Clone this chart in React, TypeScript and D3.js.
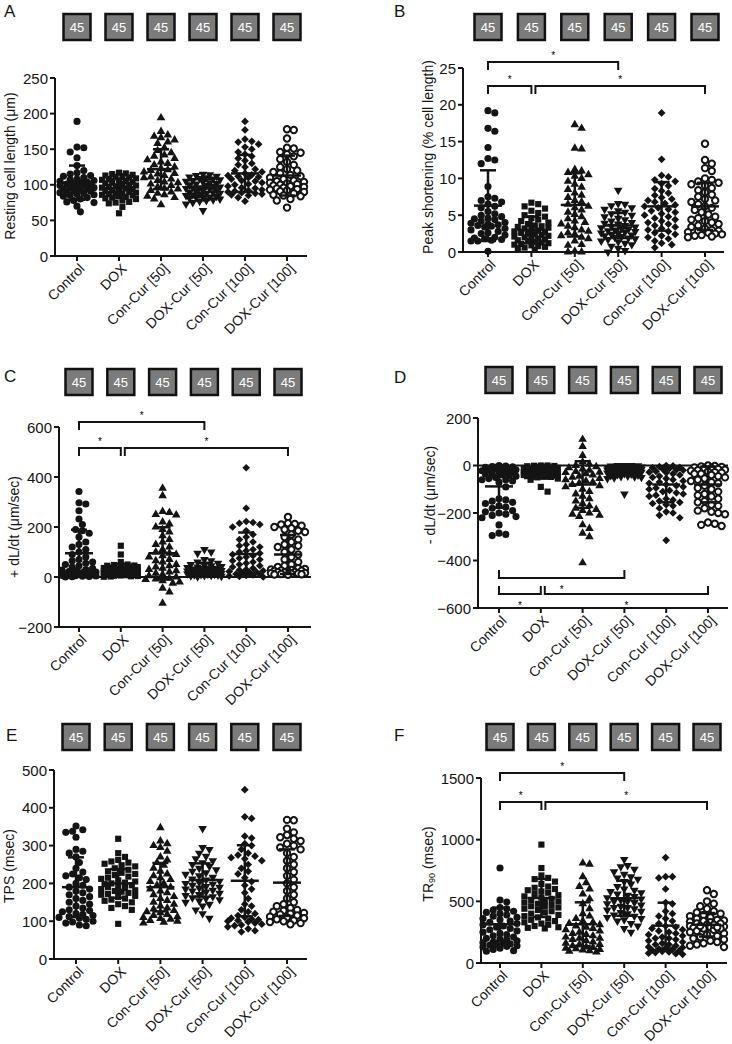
import React from 'react';
import * as d3 from 'd3';

// ---------------- DATA ----------------
const categories = ['Control', 'DOX', 'Con-Cur [50]', 'DOX-Cur [50]', 'Con-Cur [100]', 'DOX-Cur [100]'];
const groupN = [45, 45, 45, 45, 45, 45];

// A: Resting cell length (µm)
const restControl = [189, 153, 152, 146, 138, 127, 120, 117, 115, 113, 112, 110, 108, 107, 106, 105, 104, 103, 102, 101, 100, 100, 99, 98, 97, 96, 95, 94, 93, 92, 91, 90, 89, 88, 87, 86, 85, 84, 82, 80, 78, 76, 75, 70, 62];
const restDox = [117, 116, 115, 114, 113, 112, 111, 110, 109, 108, 107, 106, 105, 104, 103, 102, 101, 100, 99, 98, 97, 96, 95, 94, 93, 92, 91, 90, 89, 88, 88, 87, 86, 85, 84, 83, 82, 81, 80, 78, 76, 75, 74, 69, 60];
const restConCur50 = [194, 175, 170, 168, 166, 163, 160, 158, 152, 148, 145, 142, 140, 137, 135, 132, 130, 128, 125, 123, 121, 120, 118, 116, 115, 113, 111, 110, 108, 106, 104, 103, 101, 99, 97, 95, 94, 92, 90, 88, 86, 84, 82, 80, 72];
const restDoxCur50 = [115, 114, 113, 112, 111, 110, 109, 108, 107, 106, 105, 104, 103, 102, 101, 100, 99, 98, 97, 96, 96, 95, 94, 93, 92, 91, 90, 89, 88, 88, 87, 86, 85, 84, 83, 82, 82, 81, 80, 79, 78, 77, 75, 73, 64];
const restConCur100 = [189, 177, 164, 161, 160, 157, 153, 150, 146, 143, 140, 137, 134, 130, 128, 125, 122, 120, 118, 116, 114, 113, 112, 111, 110, 108, 106, 105, 103, 101, 100, 98, 96, 95, 93, 92, 91, 90, 89, 88, 87, 86, 85, 82, 77];
const restDoxCur100 = [178, 177, 165, 152, 151, 146, 145, 143, 140, 136, 132, 128, 125, 122, 120, 118, 116, 114, 112, 110, 108, 106, 105, 104, 103, 102, 101, 100, 99, 98, 97, 96, 95, 94, 93, 92, 91, 90, 88, 86, 85, 84, 80, 78, 68];
const restMeans = [103, 95, 122, 96, 116, 113];
const restSD = [24, 13, 28, 12, 26, 28];
const restTicks = [0, 50, 100, 150, 200, 250];

// B: Peak shortening (% cell length)
const psControl = [19.2, 18.9, 16.8, 16.4, 14.2, 12.7, 12.5, 12.0, 8.9, 7.5, 7.3, 7.0, 6.8, 6.5, 6.2, 6.0, 5.5, 5.0, 4.8, 4.6, 4.5, 4.4, 4.2, 4.0, 3.9, 3.8, 3.7, 3.6, 3.5, 3.4, 3.2, 3.0, 2.8, 2.6, 2.5, 2.3, 2.0, 1.9, 1.8, 1.7, 1.6, 1.5, 1.5, 5.2, 0.1];
const psDox = [6.7, 6.5, 6.2, 5.9, 5.6, 5.3, 5.0, 4.8, 4.6, 4.4, 4.2, 4.0, 3.8, 3.6, 3.5, 3.4, 3.3, 3.2, 3.0, 2.9, 2.8, 2.7, 2.6, 2.5, 2.4, 2.3, 2.2, 2.1, 2.0, 1.9, 1.8, 1.7, 1.6, 1.5, 1.4, 1.3, 1.2, 1.1, 1.0, 0.9, 0.8, 0.7, 0.6, 0.5, 0.3];
const psConCur50 = [17.3, 16.8, 14.1, 14.0, 11.2, 11.0, 10.8, 10.5, 10.3, 10.0, 9.6, 9.2, 8.8, 8.5, 8.0, 7.7, 7.4, 7.0, 6.8, 6.5, 6.2, 6.0, 5.7, 5.4, 5.1, 4.8, 4.5, 4.2, 4.0, 3.8, 3.5, 3.3, 3.0, 2.8, 2.6, 2.4, 2.2, 2.0, 1.8, 1.5, 1.0, 0.9, 0.1, 0.0, 0.0];
const psDoxCur50 = [8.4, 6.6, 6.5, 6.3, 6.0, 5.8, 5.6, 5.4, 5.2, 5.0, 4.8, 4.6, 4.4, 4.2, 4.0, 3.9, 3.8, 3.6, 3.5, 3.4, 3.3, 3.2, 3.1, 3.0, 2.9, 2.8, 2.7, 2.6, 2.5, 2.4, 2.3, 2.2, 2.1, 2.0, 1.9, 1.8, 1.7, 1.5, 1.4, 1.2, 1.0, 0.8, 0.5, 0.2, 0.0];
const psConCur100 = [18.9, 12.6, 10.4, 10.2, 9.8, 9.6, 9.3, 9.0, 8.6, 8.3, 8.0, 7.7, 7.4, 7.2, 7.0, 6.8, 6.6, 6.4, 6.2, 6.0, 5.8, 5.6, 5.4, 5.2, 5.0, 4.8, 4.6, 4.4, 4.2, 4.0, 3.8, 3.6, 3.4, 3.2, 3.0, 2.8, 2.6, 2.4, 2.2, 2.0, 1.8, 1.5, 1.2, 1.0, 0.6];
const psDoxCur100 = [14.7, 12.5, 12.0, 11.4, 11.0, 10.0, 9.8, 9.6, 9.4, 9.2, 9.0, 8.7, 8.4, 8.1, 7.8, 7.5, 7.2, 7.0, 6.8, 6.5, 6.2, 6.0, 5.7, 5.4, 5.1, 4.8, 4.6, 4.4, 4.2, 4.0, 3.8, 3.6, 3.4, 3.2, 3.0, 2.9, 2.8, 2.7, 2.6, 2.5, 2.4, 2.3, 2.2, 2.1, 2.0];
const psMeans = [6.3, 3.0, 6.4, 3.6, 6.2, 6.2];
const psSD = [4.8, 1.8, 4.3, 1.7, 3.3, 3.2];
const psTicks = [0, 5, 10, 15, 20, 25];

// C: +dL/dt (µm/sec)
const plusControl = [342, 297, 292, 265, 232, 210, 190, 185, 175, 160, 140, 130, 120, 110, 100, 90, 80, 70, 65, 60, 55, 50, 45, 40, 35, 30, 28, 25, 22, 20, 18, 16, 14, 12, 10, 9, 8, 7, 6, 5, 4, 3, 2, 1, 0];
const plusDox = [125, 90, 60, 50, 48, 46, 45, 44, 42, 40, 38, 36, 35, 34, 32, 30, 29, 28, 27, 26, 25, 24, 23, 22, 21, 20, 19, 18, 17, 16, 15, 14, 13, 12, 11, 10, 9, 8, 7, 6, 5, 4, 3, 2, 1];
const plusConCur50 = [355, 325, 262, 258, 250, 248, 220, 212, 200, 190, 180, 165, 150, 140, 130, 120, 110, 100, 95, 90, 85, 80, 70, 65, 60, 50, 45, 40, 35, 30, 25, 20, 15, 10, 5, 0, -5, -8, -10, -15, -20, -25, -45, -60, -105];
const plusDoxCur50 = [110, 100, 95, 70, 65, 60, 55, 50, 48, 45, 42, 40, 38, 36, 35, 34, 32, 30, 29, 28, 27, 26, 25, 24, 23, 22, 21, 20, 19, 18, 17, 16, 15, 14, 13, 12, 11, 10, 9, 8, 7, 6, 5, 3, 1];
const plusConCur100 = [437, 275, 222, 218, 215, 210, 200, 185, 170, 160, 150, 140, 130, 125, 120, 110, 105, 100, 95, 90, 85, 80, 75, 70, 65, 60, 55, 50, 45, 40, 35, 30, 28, 25, 22, 20, 18, 15, 12, 10, 8, 6, 4, 2, 0];
const plusDoxCur100 = [240, 215, 212, 210, 205, 200, 195, 190, 185, 180, 170, 160, 150, 140, 130, 125, 120, 110, 100, 90, 80, 70, 60, 50, 45, 40, 35, 32, 30, 28, 26, 25, 24, 22, 20, 19, 18, 16, 15, 14, 13, 12, 11, 10, 9];
const plusMeans = [95, 28, 95, 32, 92, 90];
const plusSD = [94, 25, 104, 25, 86, 78];
const plusTicks = [-200, 0, 200, 400, 600];

// D: -dL/dt (µm/sec)
const minusControl = [0, -2, -4, -6, -8, -10, -12, -15, -18, -20, -22, -25, -28, -30, -33, -36, -40, -42, -45, -50, -55, -60, -65, -70, -90, -140, -145, -150, -155, -160, -170, -175, -180, -190, -195, -200, -205, -210, -215, -220, -250, -285, -290, -295, -60];
const minusDox = [0, 0, -1, -2, -3, -5, -6, -8, -10, -12, -14, -15, -16, -18, -20, -21, -22, -24, -25, -26, -28, -29, -30, -31, -32, -33, -34, -35, -36, -37, -38, -39, -40, -41, -42, -43, -44, -45, -46, -48, -50, -55, -60, -90, -110];
const minusConCur50 = [110, 80, 42, 15, 5, 0, -5, -10, -15, -20, -25, -30, -35, -40, -45, -50, -55, -60, -65, -70, -75, -80, -85, -90, -100, -110, -120, -130, -140, -150, -160, -170, -180, -185, -190, -200, -205, -210, -215, -250, -265, -285, -300, -410, -28];
const minusDoxCur50 = [0, 0, 0, -1, -2, -3, -4, -5, -6, -7, -8, -9, -10, -11, -12, -13, -14, -15, -16, -17, -18, -19, -20, -21, -22, -23, -24, -25, -26, -27, -28, -30, -32, -34, -36, -38, -40, -42, -44, -46, -48, -50, -52, -55, -120];
const minusConCur100 = [0, -2, -5, -8, -10, -12, -15, -18, -20, -25, -28, -30, -35, -40, -45, -50, -55, -60, -65, -70, -75, -80, -85, -90, -95, -100, -105, -110, -115, -120, -125, -130, -140, -145, -150, -155, -160, -165, -170, -180, -195, -200, -210, -220, -315];
const minusDoxCur100 = [0, -2, -4, -6, -8, -10, -12, -15, -18, -20, -22, -25, -28, -30, -35, -40, -45, -50, -55, -60, -65, -70, -75, -85, -95, -100, -110, -120, -125, -130, -140, -150, -155, -165, -170, -180, -190, -195, -200, -205, -240, -245, -250, -255, -35];
const minusMeans = [-88, -30, -80, -20, -80, -80];
const minusSD = [90, 25, 98, 20, 75, 75];
const minusTicks = [-600, -400, -200, 0, 200];

// E: TPS (msec)
const tpsControl = [352, 342, 338, 335, 322, 290, 285, 280, 270, 255, 240, 230, 225, 220, 215, 210, 200, 195, 190, 185, 180, 175, 170, 165, 160, 155, 150, 145, 140, 135, 130, 128, 125, 120, 118, 115, 112, 110, 108, 105, 100, 98, 95, 90, 88];
const tpsDox = [318, 280, 270, 262, 258, 255, 252, 248, 245, 240, 236, 232, 228, 225, 222, 218, 215, 212, 208, 205, 202, 200, 198, 195, 192, 190, 188, 185, 182, 180, 178, 175, 172, 170, 167, 164, 160, 157, 154, 150, 145, 140, 135, 130, 93];
const tpsConCur50 = [347, 312, 305, 300, 295, 285, 270, 262, 255, 248, 240, 232, 225, 220, 215, 210, 205, 200, 195, 190, 185, 180, 175, 170, 165, 160, 155, 150, 145, 140, 135, 132, 128, 125, 122, 118, 115, 112, 110, 107, 105, 102, 100, 97, 95];
const tpsDoxCur50 = [345, 295, 290, 280, 272, 265, 260, 255, 250, 245, 240, 236, 232, 228, 224, 220, 216, 212, 209, 206, 203, 200, 198, 195, 192, 190, 188, 185, 182, 180, 177, 174, 171, 168, 165, 162, 160, 157, 154, 150, 145, 140, 130, 120, 108];
const tpsConCur100 = [448, 376, 372, 325, 320, 305, 300, 290, 280, 275, 272, 268, 265, 260, 250, 240, 232, 225, 215, 205, 195, 185, 175, 160, 145, 140, 130, 125, 120, 115, 110, 108, 106, 104, 102, 100, 98, 95, 92, 90, 88, 85, 80, 75, 72];
const tpsDoxCur100 = [368, 367, 345, 335, 328, 322, 318, 312, 305, 300, 295, 290, 280, 270, 260, 250, 240, 230, 220, 210, 200, 190, 180, 170, 160, 150, 145, 140, 135, 130, 128, 125, 122, 120, 118, 115, 112, 110, 108, 105, 102, 100, 98, 95, 92];
const tpsMeans = [190, 200, 190, 209, 207, 202];
const tpsSD = [79, 38, 64, 44, 94, 88];
const tpsTicks = [0, 100, 200, 300, 400, 500];

// F: TR90 (msec)
const trControl = [770, 510, 495, 450, 440, 430, 420, 410, 400, 390, 380, 370, 360, 350, 340, 330, 320, 310, 300, 290, 280, 270, 260, 250, 240, 230, 220, 210, 200, 195, 190, 180, 170, 165, 160, 155, 150, 145, 140, 135, 130, 120, 110, 100, 95];
const trDox = [960, 770, 710, 690, 680, 660, 640, 620, 610, 600, 590, 580, 570, 560, 550, 540, 530, 520, 510, 500, 490, 480, 470, 460, 450, 440, 430, 420, 410, 400, 390, 380, 370, 360, 350, 340, 330, 320, 310, 300, 290, 285, 280, 500, 460];
const trConCur50 = [810, 800, 700, 650, 620, 600, 560, 520, 480, 440, 400, 380, 360, 340, 330, 320, 310, 300, 290, 280, 270, 260, 250, 240, 230, 220, 210, 200, 190, 180, 170, 160, 150, 140, 130, 125, 120, 115, 110, 105, 100, 95, 90, 150, 200];
const trDoxCur50 = [840, 790, 780, 760, 740, 720, 700, 690, 680, 660, 640, 620, 600, 590, 580, 570, 560, 550, 540, 530, 520, 510, 500, 490, 480, 470, 460, 450, 440, 430, 420, 410, 400, 390, 380, 370, 360, 350, 340, 320, 300, 280, 250, 500, 450];
const trConCur100 = [855, 700, 700, 690, 600, 490, 480, 420, 400, 380, 360, 340, 320, 300, 290, 280, 270, 260, 250, 240, 230, 220, 210, 200, 190, 180, 170, 160, 150, 140, 130, 125, 120, 115, 110, 105, 100, 95, 90, 85, 80, 75, 70, 150, 200];
const trDoxCur100 = [590, 560, 500, 480, 460, 440, 420, 410, 400, 390, 380, 370, 360, 350, 345, 340, 335, 330, 320, 310, 300, 295, 290, 285, 280, 270, 260, 250, 240, 230, 220, 210, 200, 190, 180, 170, 160, 150, 140, 130, 300, 310, 320, 280, 290];
const trMeans = [314, 527, 314, 525, 303, 310];
const trSD = [135, 154, 178, 142, 186, 95];
const trTicks = [0, 500, 1000, 1500];

// ---------------- LAYOUT ----------------
type Bracket = { from: number; to: number; y: number; startOff?: number };
type Layout = {
  letter: string; letterX: number; letterY: number; boxTop: number;
  x0: number; x1: number; axisX: number; axisRight: number;
  yTop: number; yBottom: number; ylabX: number; ylabY: number;
  zeroLine: boolean; bracketsUp: boolean; brackets: Bracket[];
};

const panels: { layout: Layout; groups: number[][]; means: number[]; sds: number[]; ticks: number[]; label: React.ReactNode }[] = [
  {
    layout: { letter: 'A', letterX: 4, letterY: 17, boxTop: 14, x0: 77, x1: 287, axisX: 55, axisRight: 307, yTop: 78, yBottom: 256, ylabX: 10, ylabY: 166, zeroLine: false, bracketsUp: false, brackets: [] },
    groups: [restControl, restDox, restConCur50, restDoxCur50, restConCur100, restDoxCur100], means: restMeans, sds: restSD, ticks: restTicks,
    label: 'Resting cell length (μm)',
  },
  {
    layout: { letter: 'B', letterX: 394, letterY: 17, boxTop: 14, x0: 488, x1: 705, axisX: 463, axisRight: 724, yTop: 68, yBottom: 252, ylabX: 428, ylabY: 157, zeroLine: false, bracketsUp: false,
      brackets: [{ from: 0, to: 3, y: 62 }, { from: 0, to: 1, y: 86 }, { from: 1, to: 5, y: 86, startOff: 4 }] },
    groups: [psControl, psDox, psConCur50, psDoxCur50, psConCur100, psDoxCur100], means: psMeans, sds: psSD, ticks: psTicks,
    label: 'Peak shortening (% cell length)',
  },
  {
    layout: { letter: 'C', letterX: 4, letterY: 382, boxTop: 369, x0: 79, x1: 288, axisX: 59, axisRight: 311, yTop: 427, yBottom: 627, ylabX: 14, ylabY: 527, zeroLine: true, bracketsUp: false,
      brackets: [{ from: 0, to: 3, y: 422 }, { from: 0, to: 1, y: 448 }, { from: 1, to: 5, y: 448, startOff: 4 }] },
    groups: [plusControl, plusDox, plusConCur50, plusDoxCur50, plusConCur100, plusDoxCur100], means: plusMeans, sds: plusSD, ticks: plusTicks,
    label: '+ dL/dt (μm/sec)',
  },
  {
    layout: { letter: 'D', letterX: 394, letterY: 383, boxTop: 367, x0: 499, x1: 708, axisX: 478, axisRight: 728, yTop: 418, yBottom: 608, ylabX: 430, ylabY: 495, zeroLine: true, bracketsUp: true,
      brackets: [{ from: 0, to: 3, y: 578 }, { from: 0, to: 1, y: 594 }, { from: 1, to: 5, y: 594, startOff: 4 }] },
    groups: [minusControl, minusDox, minusConCur50, minusDoxCur50, minusConCur100, minusDoxCur100], means: minusMeans, sds: minusSD, ticks: minusTicks,
    label: '- dL/dt (μm/sec)',
  },
  {
    layout: { letter: 'E', letterX: 6, letterY: 741, boxTop: 724, x0: 76, x1: 287, axisX: 54, axisRight: 307, yTop: 770, yBottom: 959, ylabX: 9, ylabY: 866, zeroLine: false, bracketsUp: false, brackets: [] },
    groups: [tpsControl, tpsDox, tpsConCur50, tpsDoxCur50, tpsConCur100, tpsDoxCur100], means: tpsMeans, sds: tpsSD, ticks: tpsTicks,
    label: 'TPS (msec)',
  },
  {
    layout: { letter: 'F', letterX: 394, letterY: 741, boxTop: 724, x0: 500, x1: 707, axisX: 481, axisRight: 727, yTop: 778, yBottom: 963, ylabX: 428, ylabY: 864, zeroLine: false, bracketsUp: false,
      brackets: [{ from: 0, to: 3, y: 773 }, { from: 0, to: 1, y: 802 }, { from: 1, to: 5, y: 802, startOff: 4 }] },
    groups: [trControl, trDox, trConCur50, trDoxCur50, trConCur100, trDoxCur100], means: trMeans, sds: trSD, ticks: trTicks,
    label: (<>TR<tspan fontSize="9" dy="4">90</tspan><tspan dy="-4"> (msec)</tspan></>),
  },
];

const FONT = '"Liberation Sans", Arial, Helvetica, sans-serif';
const INK = '#141414';

// ------------- markers -------------
const circlePath = d3.symbol().type(d3.symbolCircle).size(40)()!;
const squarePath = d3.symbol().type(d3.symbolSquare).size(38)()!;
const trianglePath = d3.symbol().type(d3.symbolTriangle).size(32)()!;
const diamondPath = d3.symbol().type(d3.symbolSquare).size(30)()!;
const openCirclePath = d3.symbol().type(d3.symbolCircle).size(32)()!;

function Marker({ g, x, y }: { g: number; x: number; y: number }) {
  switch (g) {
    case 0: return <path d={circlePath} transform={`translate(${x},${y})`} fill={INK} />;
    case 1: return <path d={squarePath} transform={`translate(${x},${y})`} fill={INK} />;
    case 2: return <path d={trianglePath} transform={`translate(${x},${y})`} fill={INK} />;
    case 3: return <path d={trianglePath} transform={`translate(${x},${y}) rotate(180)`} fill={INK} />;
    case 4: return <path d={diamondPath} transform={`translate(${x},${y}) rotate(45)`} fill={INK} />;
    default: return <path d={openCirclePath} transform={`translate(${x},${y})`} fill="#fff" stroke={INK} strokeWidth={2} />;
  }
}

// deterministic swarm layout (horizontal offsets only)
function swarm(ys: number[], step: number, minDist: number, maxOff: number): number[] {
  const order = ys.map((_, i) => i).sort((a, b) => ys[a] - ys[b]);
  const offsets = [0];
  for (let k = 1; k * step <= maxOff; k++) offsets.push(k * step, -k * step);
  const placed: { x: number; y: number }[] = [];
  const xs = new Array(ys.length).fill(0);
  for (const i of order) {
    const y = ys[i];
    let best = 0;
    let bestScore = -Infinity;
    for (const o of offsets) {
      let md = Infinity;
      for (const p of placed) {
        if (Math.abs(p.y - y) < minDist) {
          const d = Math.hypot(p.x - o, p.y - y);
          if (d < md) md = d;
        }
      }
      if (md >= minDist) { best = o; break; }
      if (md > bestScore) { bestScore = md; best = o; }
    }
    xs[i] = best;
    placed.push({ x: best, y });
  }
  return xs;
}

function Panel({ p }: { p: (typeof panels)[number] }) {
  const L = p.layout;
  const dom = d3.extent(p.ticks) as [number, number];
  const y = d3.scaleLinear().domain(dom).range([L.yBottom, L.yTop]);
  const x = d3.scalePoint<string>().domain(categories).range([L.x0, L.x1]);
  const axisY = y(dom[0]);
  return (
    <g fontFamily={FONT}>
      <text x={L.letterX} y={L.letterY} fontSize={17} fill={INK}>{L.letter}</text>
      {categories.map((c, i) => (
        <g key={'box' + i}>
          <rect x={x(c)! - 13.5} y={L.boxTop} width={27} height={26} fill="#7b7b7b" stroke="#111" strokeWidth={2.5} />
          <text x={x(c)!} y={L.boxTop + 13} fill="#fff" fontSize={13} textAnchor="middle" dominantBaseline="central">{groupN[i]}</text>
        </g>
      ))}
      {/* y axis */}
      <line x1={L.axisX} x2={L.axisX} y1={y(dom[1])} y2={axisY} stroke={INK} strokeWidth={2} />
      {p.ticks.map((t) => (
        <g key={'t' + t}>
          <line x1={L.axisX - 5} x2={L.axisX} y1={y(t)} y2={y(t)} stroke={INK} strokeWidth={2} />
          <text x={L.axisX - 7} y={y(t)} fontSize={15} textAnchor="end" dominantBaseline="central" fill={INK}>{t < 0 ? '\u2212' + Math.abs(t) : t}</text>
        </g>
      ))}
      {/* x axis */}
      <line x1={L.axisX} x2={L.axisRight} y1={axisY} y2={axisY} stroke={INK} strokeWidth={2} />
      {L.zeroLine && <line x1={L.axisX} x2={L.axisRight} y1={y(0)} y2={y(0)} stroke={INK} strokeWidth={2} />}
      {categories.map((c) => (
        <g key={'c' + c}>
          <line x1={x(c)} x2={x(c)} y1={axisY} y2={axisY + 5} stroke={INK} strokeWidth={2} />
          <text transform={`translate(${x(c)! + 5},${axisY + 10}) rotate(-45)`} fontSize={14} textAnchor="end" dominantBaseline="central" fill={INK}>{c}</text>
        </g>
      ))}
      {/* y label */}
      <text transform={`translate(${L.ylabX},${L.ylabY}) rotate(-90)`} fontSize={14} textAnchor="middle" dominantBaseline="central" fill={INK}>{p.label}</text>
      {/* points */}
      {p.groups.map((vals, gi) => {
        const ys = vals.map((v) => y(v));
        const xs = swarm(ys, 3.4, 6.2, 20);
        const cx = x(categories[gi])!;
        const m = p.means[gi];
        const s = p.sds[gi];
        return (
          <g key={'g' + gi}>
            {vals.map((v, i) => <Marker key={i} g={gi} x={cx + xs[i]} y={ys[i]} />)}
            <line x1={cx} x2={cx} y1={y(m - s)} y2={y(m + s)} stroke={INK} strokeWidth={2.5} />
            <line x1={cx - 8} x2={cx + 8} y1={y(m + s)} y2={y(m + s)} stroke={INK} strokeWidth={2.5} />
            <line x1={cx - 8} x2={cx + 8} y1={y(m - s)} y2={y(m - s)} stroke={INK} strokeWidth={2.5} />
            <line x1={cx - 14} x2={cx + 14} y1={y(m)} y2={y(m)} stroke={INK} strokeWidth={2.5} />
          </g>
        );
      })}
      {/* significance brackets */}
      {L.brackets.map((b, i) => {
        const xa = x(categories[b.from])! + (b.startOff || 0);
        const xb = x(categories[b.to])!;
        const e = L.bracketsUp ? -8 : 8;
        const starY = L.bracketsUp ? b.y + 15 : b.y - 3;
        return (
          <g key={'b' + i}>
            <path d={`M${xa},${b.y + e}V${b.y}H${xb}V${b.y + e}`} fill="none" stroke={INK} strokeWidth={2} />
            <text x={(xa + xb) / 2} y={starY} fontSize={10} textAnchor="middle" fill="#000">*</text>
          </g>
        );
      })}
    </g>
  );
}

export default function App() {
  return (
    <svg width={732} height={1044} style={{ position: 'absolute', left: 0, top: 0, background: '#fff' }}>
      <rect width={732} height={1044} fill="#fff" />
      {panels.map((p, i) => <Panel key={i} p={p} />)}
    </svg>
  );
}
